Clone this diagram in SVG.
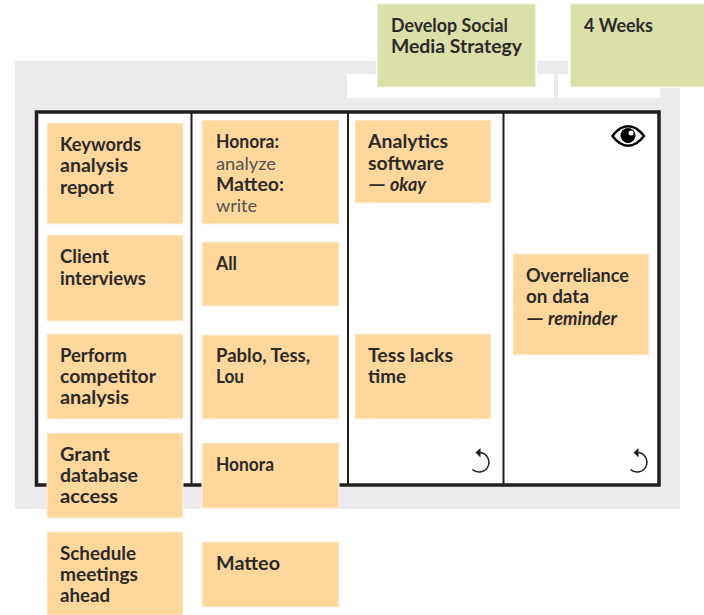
<svg xmlns="http://www.w3.org/2000/svg" width="704" height="615" viewBox="0 0 704 615">
<style>
.s{stroke:#fff1dc;stroke-width:1}
.o{fill:#fed79d}
.g{fill:#dbdfa9;stroke:#f0f2d8;stroke-width:1}
text{font-family:"Lato","Liberation Sans",sans-serif;font-size:18px;font-weight:700;fill:#2c2a29}
.l{font-weight:400;fill:#55524f}
.i{font-style:italic}
.b{fill:none;stroke:#231f20}
</style>
<g id="frame">
<path fill="#ebebed" fill-rule="evenodd" d="M15 61H376V74H347V98H554V74H558V98H660V88H680V509H15ZM537 61H568V74H537Z"/>
<rect x="36" y="111" width="624" height="375" fill="#fff"/>
</g>
<g id="board" class="b">
<rect x="36.500" y="112" width="622.500" height="373" stroke-width="3.500"/>
<path d="M191.500 112V485M348 112V485M503.500 112V485" stroke-width="2"/>
</g>
<g id="goal"><rect class="g" x="377.500" y="4" width="158" height="83"/><text x="391" y="32" textLength="117" lengthAdjust="spacingAndGlyphs">Develop Social</text><text x="391" y="53" textLength="131" lengthAdjust="spacingAndGlyphs">Media Strategy</text></g>
<g id="duration"><rect class="g" x="570.500" y="4" width="134" height="83"/><text x="584" y="32" textLength="69" lengthAdjust="spacingAndGlyphs">4 Weeks</text></g>
<g id="n1"><rect class="o s" x="47" y="123" width="136" height="101"/><text x="60" y="150.500" textLength="81" lengthAdjust="spacingAndGlyphs">Keywords</text><text x="60" y="171.500" textLength="68" lengthAdjust="spacingAndGlyphs">analysis</text><text x="60" y="193.500" textLength="54" lengthAdjust="spacingAndGlyphs">report</text></g>
<g id="n2"><rect class="o s" x="47" y="235" width="136" height="86"/><text x="60" y="262.500" textLength="49" lengthAdjust="spacingAndGlyphs">Client</text><text x="60" y="284.500" textLength="86" lengthAdjust="spacingAndGlyphs">interviews</text></g>
<g id="n3"><rect class="o s" x="47" y="334" width="136" height="85"/><text x="60" y="361.500" textLength="67" lengthAdjust="spacingAndGlyphs">Perform</text><text x="60" y="382.500" textLength="96" lengthAdjust="spacingAndGlyphs">competitor</text><text x="60" y="403.500" textLength="69" lengthAdjust="spacingAndGlyphs">analysis</text></g>
<g id="n4"><rect class="o s" x="47" y="433" width="136" height="85"/><text x="60" y="460.500" textLength="50" lengthAdjust="spacingAndGlyphs">Grant</text><text x="60" y="481.500" textLength="78" lengthAdjust="spacingAndGlyphs">database</text><text x="60" y="502.500" textLength="58" lengthAdjust="spacingAndGlyphs">access</text></g>
<g id="n5"><rect class="o s" x="47" y="532" width="136" height="83"/><text x="60" y="559.500" textLength="76" lengthAdjust="spacingAndGlyphs">Schedule</text><text x="60" y="580.500" textLength="78" lengthAdjust="spacingAndGlyphs">meetings</text><text x="60" y="601.500" textLength="50" lengthAdjust="spacingAndGlyphs">ahead</text></g>
<g id="n6"><rect class="o s" x="202" y="120" width="137" height="104"/><text x="216" y="147.500" textLength="63" lengthAdjust="spacingAndGlyphs">Honora:</text><text x="216" y="169.500" class="l" textLength="60" lengthAdjust="spacingAndGlyphs">analyze</text><text x="216" y="190.500" textLength="68" lengthAdjust="spacingAndGlyphs">Matteo:</text><text x="216" y="211.500" class="l" textLength="41" lengthAdjust="spacingAndGlyphs">write</text></g>
<g id="n7"><rect class="o s" x="202" y="242" width="137" height="64"/><text x="216" y="269.500" textLength="21" lengthAdjust="spacingAndGlyphs">All</text></g>
<g id="n8"><rect class="o s" x="202" y="335" width="137" height="84"/><text x="216" y="361.500" textLength="94" lengthAdjust="spacingAndGlyphs">Pablo, Tess,</text><text x="216" y="382.500" textLength="28" lengthAdjust="spacingAndGlyphs">Lou</text></g>
<g id="n9"><rect class="o s" x="202" y="443" width="137" height="65"/><text x="216" y="470.500" textLength="58" lengthAdjust="spacingAndGlyphs">Honora</text></g>
<g id="n10"><rect class="o s" x="202" y="542" width="137" height="65"/><text x="216" y="569.500" textLength="64" lengthAdjust="spacingAndGlyphs">Matteo</text></g>
<g id="n11"><rect class="o s" x="355" y="120" width="136" height="83"/><text x="368" y="147.500" textLength="80" lengthAdjust="spacingAndGlyphs">Analytics</text><text x="368" y="169.500" textLength="76" lengthAdjust="spacingAndGlyphs">software</text><text x="368" y="190.500" textLength="18" lengthAdjust="spacingAndGlyphs">—</text><text x="390" y="190.500" class="i" textLength="36" lengthAdjust="spacingAndGlyphs">okay</text></g>
<g id="n12"><rect class="o s" x="355" y="334" width="136" height="85"/><text x="368" y="361.500" textLength="85" lengthAdjust="spacingAndGlyphs">Tess lacks</text><text x="368" y="382.500" textLength="38" lengthAdjust="spacingAndGlyphs">time</text></g>
<g id="n13"><rect class="o s" x="513" y="254" width="136" height="101"/><text x="526" y="281.500" textLength="103" lengthAdjust="spacingAndGlyphs">Overreliance</text><text x="526" y="302.500" textLength="63" lengthAdjust="spacingAndGlyphs">on data</text><text x="526" y="324.500" textLength="18" lengthAdjust="spacingAndGlyphs">—</text><text x="548" y="324.500" class="i" textLength="69" lengthAdjust="spacingAndGlyphs">reminder</text></g>
<g id="eye">
<path d="M612.500 136C622 123 634 123 644 136C634 149 622 149 612.500 136Z" fill="#fff" stroke="#000" stroke-width="2.500"/>
<circle cx="628" cy="135.500" r="7.500" fill="#000"/><circle cx="631" cy="133" r="2.500" fill="#fff"/>
</g>
<g id="cycle1"><path class="b" stroke-width="1.500" d="M472.500 469.500A9.800 9.800 0 1 0 480 452.500"/><path d="M480.500 448V457.500L475.500 452.500Z" fill="#231f20"/></g>
<g id="cycle2"><path class="b" stroke-width="1.500" d="M630.500 469.500A9.800 9.800 0 1 0 638 452.500"/><path d="M638.500 448V457.500L633.500 452.500Z" fill="#231f20"/></g>
</svg>
